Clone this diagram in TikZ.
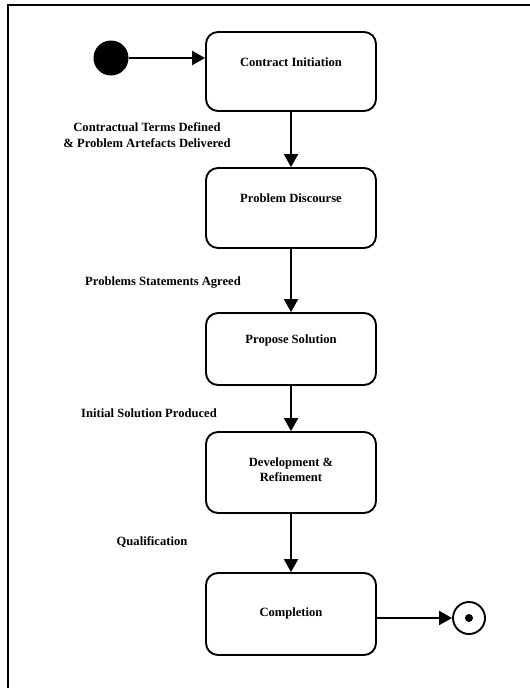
\documentclass[tikz,border=0pt]{standalone}
\usepackage{fontspec}
\setmainfont{Liberation Serif}
\usetikzlibrary{arrows.meta}
\begin{document}
\begin{tikzpicture}[x=1pt,y=-1pt,
  state/.style={draw, line width=1.9pt, rounded corners=12pt, minimum width=170pt, inner sep=0pt},
  txt/.style={font=\fontsize{12.6}{15}\selectfont\bfseries, align=center, inner sep=0pt},
  flow/.style={line width=2.1pt, -{Triangle[width=14pt,length=13pt]}},
]
\useasboundingbox (0,0) rectangle (530,688);
% outer frame, running off the right and bottom edges
\begin{scope}
  \clip (0,0) rectangle (530,688);
  \draw[line width=1.3pt] (8,5) rectangle (560,720);
\end{scope}

% pseudo states
\node[circle, fill, minimum size=35pt, inner sep=0pt] (init) at (111,58) {};
\node[circle, draw, line width=1.9pt, minimum size=32pt, inner sep=0pt] (fin) at (469,618) {};
\node[circle, fill, minimum size=8pt, inner sep=0pt] (findot) at (fin) {};

% states
\node[state, minimum height=79pt] (ci) at (291,71.5) {};
\node[txt] (cit) at (291,62) {Contract Initiation};
\node[state, minimum height=80pt] (pd) at (291,208) {};
\node[txt] (pdt) at (291,198) {Problem Discourse};
\node[state, minimum height=72pt] (ps) at (291,349) {};
\node[txt] (pst) at (291,340) {Propose Solution};
\node[state, minimum height=81pt] (dr) at (291,472.5) {};
\node[txt] (drt) at (291,469.5) {Development \&\\Refinement};
\node[state, minimum height=82pt] (co) at (291,614) {};
\node[txt] (cot) at (291,613) {Completion};

% transitions
\draw[flow] (init) -- (init -| ci.west);
\draw[flow] (ci) -- (pd);
\draw[flow] (pd) -- (ps);
\draw[flow] (ps) -- (dr);
\draw[flow] (dr) -- (co);
\draw[flow] (fin -| co.east) -- (fin);

% transition labels
\node[txt, font=\fontsize{12.6}{16}\selectfont\bfseries] (l1) at (147,135) {Contractual Terms Defined\\\& Problem Artefacts Delivered};
\node[txt] (l2) at (163,283) {Problems Statements Agreed};
\node[txt] (l3) at (149,413) {Initial Solution Produced};
\node[txt] (l4) at (152,542) {Qualification};
\end{tikzpicture}
\end{document}
